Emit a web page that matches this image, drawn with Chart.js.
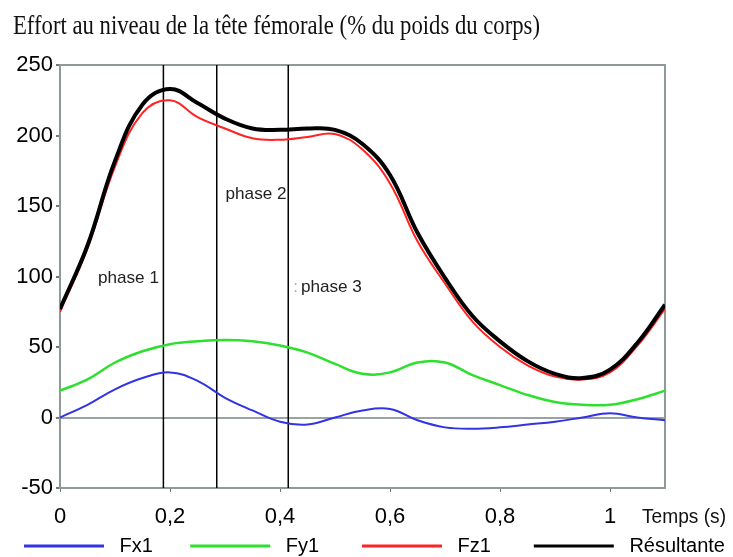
<!DOCTYPE html>
<html>
<head>
<meta charset="utf-8">
<script src="https://cdn.jsdelivr.net/npm/chart.js@4.4.0/dist/chart.umd.min.js"></script>
<style>
  body { margin: 0; background: #fff; }
  #wrap { width: 733px; height: 557px; }
</style>
</head>
<body>
<div id="wrap"><canvas id="effort"></canvas></div>
<script>
// time (s), one reading every 0.05 s
const temps = [0, 0.05, 0.1, 0.15, 0.2, 0.25, 0.3, 0.35, 0.4, 0.45, 0.5, 0.55,
  0.6, 0.65, 0.7, 0.75, 0.8, 0.85, 0.9, 0.95, 1, 1.05, 1.1];
// % of body weight
const fx1 = [0, 9, 20, 28, 32, 26, 14, 5, -3, -5, 0, 5, 6, -2, -7, -8, -7, -5, -3, 0, 3, 0, -2];
const fy1 = [19, 27, 39, 47, 52, 54, 55, 54, 51, 46, 38, 31, 32, 39, 39, 30, 23, 16, 11, 9, 9, 13, 19];
const fz1 = [75, 120, 178, 216, 225, 213, 205, 198, 197, 199, 201, 190, 166, 125, 95, 68, 50, 37, 29, 27, 32, 51, 77];
const resultante = [77, 122, 182, 222, 233, 223, 212, 205, 204, 205, 204, 194, 172, 131, 99, 72, 54, 40, 31, 28, 34, 53, 80];

const seriesNames = ["Fx1", "Fy1", "Fz1", "Résultante"];
const phaseLimits = [0.188, 0.285, 0.415];
const phaseNames = ["phase 1", "phase 2", "phase 3"];
const yTicks = [-50, 0, 50, 100, 150, 200, 250];

const titleText = "Effort au niveau de la tête fémorale (% du poids du corps)";
const axisText = "Temps (s)";

const toPoints = (vals) => vals.map((v, i) => ({ x: temps[i], y: v }));

// squeeze a string into a given width (the original uses a narrow face)
function fitText(ctx, text, x, y, width) {
  const w = ctx.measureText(text).width;
  ctx.save();
  ctx.translate(x, y);
  ctx.scale(width / w, 1);
  ctx.fillText(text, 0, 0);
  ctx.restore();
}

const extras = {
  id: "extras",
  afterDraw(chart) {
    const { ctx, scales } = chart;
    const xs = scales.x, ys = scales.y;
    ctx.save();
    ctx.fillStyle = "#111";
    ctx.textBaseline = "alphabetic";
    ctx.font = '27px "Liberation Serif"';
    fitText(ctx, titleText, 13, 34, 527);
    ctx.font = '21px "Liberation Sans"';
    fitText(ctx, axisText, 642, 523, 84);

    // phase labels, anchored in data units
    const spots = [[0.069, 99], [0.301, 158], [0.438, 92]];
    ctx.font = '17px "Liberation Sans"';
    ctx.textBaseline = "middle";
    ctx.fillStyle = "#222";
    phaseNames.forEach((name, i) => {
      fitText(ctx, name, xs.getPixelForValue(spots[i][0]), ys.getPixelForValue(spots[i][1]), 61);
    });
    ctx.fillStyle = "#aaa";
    ctx.fillText(":", xs.getPixelForValue(0.424), ys.getPixelForValue(92));
    ctx.restore();
  },
};

const colors = ["#3232e6", "#2ee02e", "#ff2222", "#000000"];
const widths = [2, 2.5, 2, 4];
const order = [2, 3, 1, 0];
const gaps = [6, 7, 7, 0];

const datasets = [fx1, fy1, fz1, resultante].map((vals, i) => ({
  label: seriesNames[i],
  data: toPoints(vals),
  borderColor: colors[i],
  backgroundColor: colors[i],
  borderWidth: widths[i],
  order: order[i],
  pointRadius: 0,
  tension: 0.4,
}));

phaseLimits.forEach((t) => {
  datasets.push({
    label: "limite",
    data: [{ x: t, y: -50 }, { x: t, y: 250 }],
    borderColor: "#000",
    borderWidth: 1.5,
    pointRadius: 0,
    order: 5,
  });
});

const border = { display: true, color: "#8f9999", width: 2 };

new Chart(document.getElementById("effort"), {
  type: "line",
  data: { datasets },
  plugins: [extras],
  options: {
    responsive: true,
    maintainAspectRatio: false,
    animation: false,
    layout: { padding: { left: 16, right: 0, top: 0, bottom: -9 } },
    scales: {
      x: {
        type: "linear",
        min: 0,
        max: 1.1,
        afterFit: (s) => { s.height = 44; },
        border,
        grid: { color: "transparent", tickColor: "#777", tickLength: 4 },
        ticks: {
          stepSize: 0.2,
          includeBounds: false,
          padding: 12,
          color: "#000",
          font: { family: "Liberation Sans", size: 22 },
          callback: (v) => String(Math.round(v * 10) / 10).replace(".", ","),
        },
      },
      xTop: {
        type: "linear",
        position: "top",
        min: 0,
        max: 1.1,
        afterFit: (s) => { s.height = 65; },
        border,
        grid: { display: false },
        ticks: { display: false },
      },
      y: {
        min: -50,
        max: 250,
        afterFit: (s) => { s.width = 44; },
        border,
        afterBuildTicks: (s) => { s.ticks = yTicks.map((v) => ({ value: v })); },
        grid: {
          color: (c) => (c.tick && c.tick.value === 0 ? "#9aa3a3" : "transparent"),
          lineWidth: 2,
          tickColor: "#777",
          tickLength: 4,
        },
        ticks: {
          padding: 3,
          color: "#000",
          font: { family: "Liberation Sans", size: 22 },
        },
      },
      yRight: {
        type: "linear",
        position: "right",
        min: -50,
        max: 250,
        afterFit: (s) => { s.width = 68; },
        border,
        grid: { display: false },
        ticks: { display: false },
      },
    },
    plugins: {
      title: { display: false },
      tooltip: { enabled: false },
      legend: {
        position: "bottom",
        labels: {
          usePointStyle: true,
          pointStyle: "line",
          pointStyleWidth: 80,
          padding: 4,
          color: "#000",
          font: { family: "Liberation Sans", size: 20 },
          filter: (item) => item.datasetIndex < 4,
          sort: (a, b) => a.datasetIndex - b.datasetIndex,
          generateLabels: (chart) =>
            Chart.defaults.plugins.legend.labels.generateLabels(chart).map((item) => {
              if (item.datasetIndex < 4) {
                item.text = " " + item.text + " ".repeat(gaps[item.datasetIndex]);
                item.lineWidth = 3;
              }
              return item;
            }),
        },
      },
    },
  },
});
</script>
</body>
</html>
